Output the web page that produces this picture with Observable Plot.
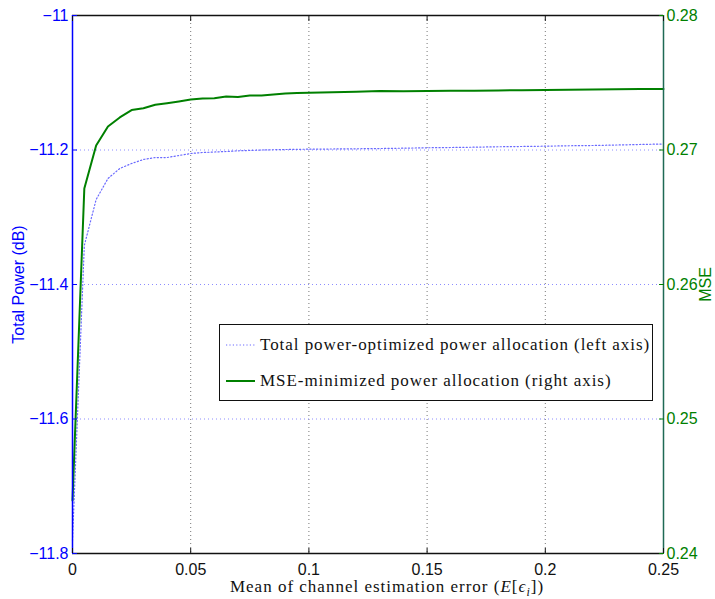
<!DOCTYPE html>
<html>
<head>
<meta charset="utf-8">
<script src="https://cdn.jsdelivr.net/npm/d3@7"></script>
<script src="https://cdn.jsdelivr.net/npm/@observablehq/plot@0.6"></script>
<style>
  html, body { margin: 0; padding: 0; background: white; }
  #wrap { position: relative; width: 715px; height: 599px; }
  #legend {
    position: absolute; left: 219px; top: 324px; width: 432px; height: 75px;
    border: 1.5px solid #111; background: white; box-sizing: content-box;
    font-family: "Liberation Serif", "DejaVu Serif", serif; font-size: 17px; color: #111;
    letter-spacing: 0.95px;
  }
  .row { position: absolute; left: 6px; height: 20px; display: flex; align-items: center; white-space: nowrap; }
  .row svg { margin-right: 4px; }
</style>
</head>
<body>
<div id="wrap"></div>
<script>
// ---- data ----
const xValues = [0, 0.005, 0.01, 0.015, 0.02, 0.025, 0.03, 0.035, 0.04, 0.045, 0.05,
  0.055, 0.06, 0.065, 0.07, 0.075, 0.08, 0.085, 0.09, 0.095, 0.1,
  0.11, 0.12, 0.13, 0.14, 0.15, 0.16, 0.17, 0.18, 0.19, 0.2, 0.21, 0.22, 0.23, 0.24, 0.25];
const totalPower = [-11.7807, -11.3420, -11.2736, -11.2424, -11.2275, -11.2201, -11.2141, -11.2112, -11.2112, -11.2082, -11.2052,
  -11.2037, -11.2030, -11.2022, -11.2012, -11.2007, -11.2000, -11.1996, -11.1993, -11.1990, -11.1988,
  -11.1985, -11.1982, -11.1978, -11.1973, -11.1967, -11.1963, -11.1958, -11.1952, -11.1948, -11.1943, -11.1937, -11.1933, -11.1926, -11.1918, -11.1911];
const mse = [0.24394, 0.26714, 0.27033, 0.27175, 0.27242, 0.27297, 0.27311, 0.27336, 0.27348, 0.27361, 0.27375,
  0.27383, 0.27385, 0.27398, 0.27394, 0.27405, 0.27405, 0.27413, 0.27420, 0.27424, 0.27425,
  0.27429, 0.27433, 0.27439, 0.27436, 0.27439, 0.27440, 0.27441, 0.27443, 0.27445, 0.27446, 0.27448, 0.27450, 0.27451, 0.27453, 0.27454];
const xTicks = [0, 0.05, 0.1, 0.15, 0.2, 0.25];
const leftTicks = [-11.8, -11.6, -11.4, -11.2, -11];
const rightTicks = [0.24, 0.25, 0.26, 0.27, 0.28];
const seriesNames = ["Total power-optimized power allocation (left axis)", "MSE-minimized power allocation (right axis)"];
const xLabel = "Mean of channel estimation error (E[ϵi])";
const leftLabel = "Total Power (dB)";
const rightLabel = "MSE";

// map right-axis values onto the left-axis domain
const leftDomain = [-11.8, -11];
const rightDomain = [0.24, 0.28];
const toLeft = v => leftDomain[0] + (v - rightDomain[0]) * (leftDomain[1] - leftDomain[0]) / (rightDomain[1] - rightDomain[0]);
const toRight = v => rightDomain[0] + (v - leftDomain[0]) * (rightDomain[1] - rightDomain[0]) / (leftDomain[1] - leftDomain[0]);

const rows = xValues.map((x, i) => ({x, power: totalPower[i], mseL: toLeft(mse[i])}));

const BLUE = "#0000ff", GREEN = "#008000";

const chart = Plot.plot({
  width: 715, height: 599,
  marginLeft: 72, marginRight: 52, marginTop: 15, marginBottom: 46,
  style: {fontFamily: "'Liberation Sans', Arial, sans-serif", fontSize: "16px", background: "white", overflow: "visible"},
  x: {domain: [0, 0.25]},
  y: {domain: leftDomain},
  marks: [
    Plot.gridX(xTicks.slice(1, -1), {stroke: "#777", strokeOpacity: 1, strokeDasharray: "1,3"}),
    Plot.gridY(leftTicks.slice(1, -1), {stroke: "#8c8cff", strokeOpacity: 1, strokeDasharray: "1,3"}),
    Plot.line(rows, {x: "x", y: "power", stroke: "#6a6aff", strokeWidth: 1.2, strokeDasharray: "1.2,2.2"}),
    Plot.line(rows, {x: "x", y: "mseL", stroke: GREEN, strokeWidth: 2}),
    Plot.ruleY(leftDomain, {stroke: "#111", strokeWidth: 1.5}),
    Plot.ruleX([0], {stroke: BLUE, strokeWidth: 1.5}),
    Plot.ruleX([0.25], {stroke: "#1f6a55", strokeWidth: 1.5}),
    Plot.axisX({anchor: "bottom", ticks: xTicks, tickFormat: d => String(+d.toFixed(2)), tickSize: -5, tickPadding: 15, color: "#111", label: null}),
    Plot.axisX({anchor: "top", ticks: xTicks, tickFormat: () => "", tickSize: -5, color: "#111", label: null}),
    Plot.axisY({anchor: "left", ticks: leftTicks, tickFormat: d => String(d).replace("-", "\u2212"), tickSize: -5, tickPadding: 9, color: BLUE, label: null}),
    Plot.axisY({anchor: "right", ticks: rightTicks.map(toLeft), tickFormat: d => toRight(d).toFixed(2), tickSize: -5, tickPadding: 8, color: GREEN, label: null}),
    Plot.text([leftLabel], {text: d => d, frameAnchor: "left", dx: -54, rotate: -90, fill: BLUE, fontSize: 16, textAnchor: "middle", lineAnchor: "middle"}),
    Plot.text([rightLabel], {text: d => d, frameAnchor: "right", dx: 42, rotate: -90, fill: GREEN, fontSize: 16, textAnchor: "middle", lineAnchor: "middle"}),
    Plot.text([xLabel], {text: d => d, frameAnchor: "bottom", dx: 19, dy: 33, fill: "#111", fontSize: 17, fontFamily: "'Liberation Serif', 'DejaVu Serif', serif", textAnchor: "middle", lineAnchor: "middle"})
  ]
});

document.getElementById("wrap").appendChild(chart);

// typeset the math part of the x label with tspans (still real text)
d3.select(chart).selectAll("text").each(function() {
  if (this.textContent === xLabel) {
    const t = d3.select(this).attr("letter-spacing", "1px");
    t.text("Mean of channel estimation error (");
    t.append("tspan").attr("font-style", "italic").text("E");
    t.append("tspan").text("[");
    t.append("tspan").attr("font-style", "italic").text("ϵ");
    t.append("tspan").attr("font-style", "italic").attr("font-size", 12).attr("dy", 4).text("i");
    t.append("tspan").attr("dy", -4).text("])");
  }
});

// legend overlay
const legend = document.createElement("div");
legend.id = "legend";
const styles = [
  {stroke: "#6a6aff", width: 1.2, dash: "1.2,2.2"},
  {stroke: GREEN, width: 2, dash: null}
];
seriesNames.forEach((name, i) => {
  const row = document.createElement("div");
  row.className = "row";
  row.style.top = (i === 0 ? 10 : 46) + "px";
  const s = styles[i];
  row.innerHTML = `<svg width="30" height="10"><line x1="0" x2="29" y1="5" y2="5" stroke="${s.stroke}" stroke-width="${s.width}" ${s.dash ? `stroke-dasharray="${s.dash}"` : ""}/></svg><span>${name}</span>`;
  legend.appendChild(row);
});
document.getElementById("wrap").appendChild(legend);
</script>
</body>
</html>
